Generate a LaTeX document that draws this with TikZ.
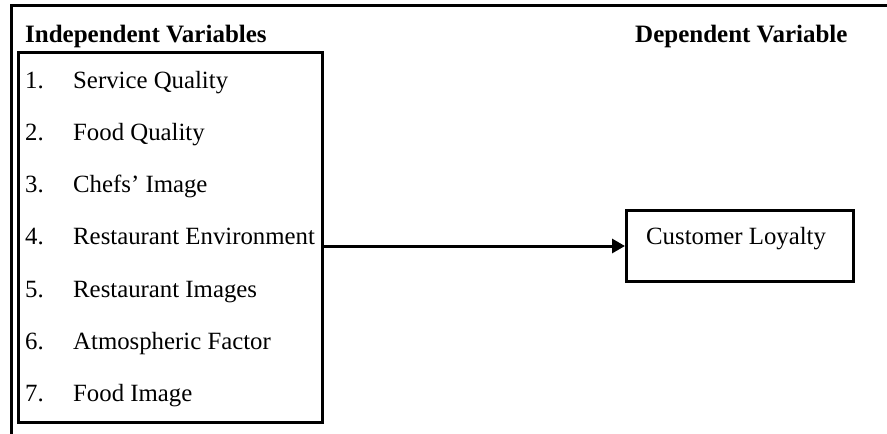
\documentclass[tikz,border=0pt]{standalone}
\usepackage{fontspec}
\setmainfont{Liberation Serif}
\usetikzlibrary{arrows.meta}
\tikzset{
 frameline/.style={line width=3pt},
 varbox/.style={draw, line width=3pt, inner sep=0, anchor=north west},
 vartext/.style={inner sep=0, anchor=base west},
 heading/.style={inner sep=0, anchor=base west, font=\fontsize{25}{29}\selectfont\bfseries}
}
\begin{document}
\begin{tikzpicture}[x=1pt, y=-1pt, font=\fontsize{24.8}{29}\selectfont]
\useasboundingbox (0,0) rectangle (887,434);
\draw[frameline] (887,5) -- (11,5) -- (11,434);
\node[heading] (indephead) at (25,42) {Independent Variables};
\node[heading] (dephead) at (635,42) {Dependent Variable};
\node[varbox, minimum width=304, minimum height=370] (indep) at (17,51) {};
\foreach \n/\v in {1/Service Quality, 2/Food Quality, 3/Chefs’ Image, 4/Restaurant Environment, 5/Restaurant Images, 6/Atmospheric Factor, 7/Food Image} {
 \node[vartext] (num\n) at (25,{88+52.3*(\n-1)}) {\n.};
 \node[vartext] (item\n) at (73,{88+52.3*(\n-1)}) {\v};
}
\node[varbox, minimum width=227, minimum height=71] (loyalty) at (625,209) {};
\node[vartext] (loyaltytext) at (646,244) {Customer Loyalty};
\draw[line width=3pt, -{Triangle[length=13pt, width=14pt]}] (loyalty.west -| indep.east) -- (loyalty.west);
\end{tikzpicture}
\end{document}
